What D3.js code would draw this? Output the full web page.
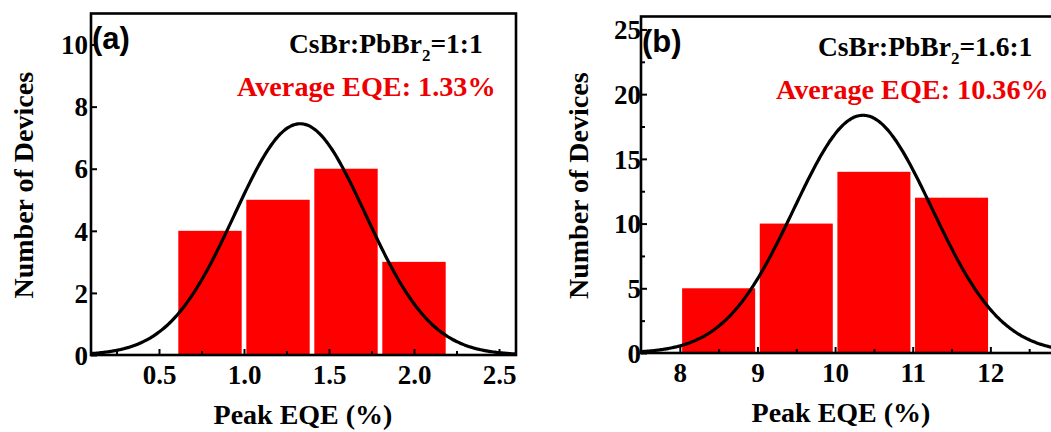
<!DOCTYPE html>
<html>
<head>
<meta charset="utf-8">
<script src="https://cdn.jsdelivr.net/npm/d3@7"></script>
<style>
  body { margin: 0; background: #fff; }
  svg { display: block; }
  text { font-family: "Liberation Serif", "Times New Roman", serif; font-weight: bold; }
  text.tag { font-family: "Liberation Sans", Arial, sans-serif; }
</style>
</head>
<body>
<div id="chart"></div>
<script>
const width = 1051,
    height = 432;

// panel (a)
const binEdgesA = [0.6, 1.0, 1.4, 1.8, 2.2];
const countsA = [4, 5, 6, 3];
const fitA = [1.33, 0.386, 7.45];   // mean, sigma, peak height
const xTicksA = [0.5, 1.0, 1.5, 2.0, 2.5];
const yTicksA = [0, 2, 4, 6, 8, 10];

// panel (b)
const binEdgesB = [8, 9, 10, 11, 12];
const countsB = [5, 10, 14, 12];
const fitB = [10.36, 0.89, 18.37];
const xTicksB = [8, 9, 10, 11, 12];
const yTicksB = [0, 5, 10, 15, 20, 25];

var svg = d3.select("#chart").append("svg")
    .attr("width", width)
    .attr("height", height);

function panel(o) {
    var g = svg.append("g");
    var x = d3.scaleLinear().domain(o.xDomain).range([o.left, o.right]);
    var y = d3.scaleLinear().domain(o.yDomain).range([o.bottom, o.top]);

    var clipId = "clip-" + o.name;
    svg.append("clipPath").attr("id", clipId)
        .append("rect")
        .attr("x", o.left).attr("y", o.top)
        .attr("width", o.right - o.left).attr("height", o.bottom - o.top);

    // bars
    var bins = o.counts.map((c, i) => ({x0: o.edges[i], x1: o.edges[i + 1], n: c}));
    g.selectAll(".bar").data(bins)
        .join("rect")
        .attr("class", "bar")
        .attr("x", d => x(d.x0) + 2.3)
        .attr("width", d => x(d.x1) - x(d.x0) - 4.6)
        .attr("y", d => y(d.n))
        .attr("height", d => y(0) - y(d.n))
        .attr("fill", "#ff0000");

    // gaussian fit
    var [mu, sigma, amp] = o.fit;
    var pts = d3.range(o.xDomain[0], o.xDomain[1] + 1e-9, (o.xDomain[1] - o.xDomain[0]) / 300)
        .map(v => [v, amp * Math.exp(-((v - mu) ** 2) / (2 * sigma * sigma))]);
    g.append("path")
        .datum(pts)
        .attr("clip-path", `url(#${clipId})`)
        .attr("fill", "none")
        .attr("stroke", "#000")
        .attr("stroke-width", 3.2)
        .attr("d", d3.line().x(d => x(d[0])).y(d => y(d[1])).curve(d3.curveBasis));

    // axes, ticks inside
    var xAxis = d3.axisBottom(x).tickValues(o.xTicks).tickSize(-6).tickFormat(o.xFmt).tickPadding(15);
    var xMinor = d3.axisBottom(x).tickValues(o.xMinor).tickSize(-4).tickFormat("");
    var yAxis = d3.axisLeft(y).tickValues(o.yTicks).tickSize(-6).tickFormat(d3.format("d")).tickPadding(o.yPad);
    var yMinor = d3.axisLeft(y).tickValues(o.yMinor).tickSize(-4).tickFormat("");

    [xMinor, xAxis].forEach(a => {
        var ax = g.append("g").attr("transform", `translate(0,${o.bottom})`).call(a);
        ax.select(".domain").remove();
        ax.selectAll(".tick line").attr("stroke-width", 2);
        ax.selectAll("text").attr("font-size", 27).attr("fill", "#000").attr("dy", "0.5em");
    });
    [yMinor, yAxis].forEach(a => {
        var ax = g.append("g").attr("transform", `translate(${o.left},0)`).call(a);
        ax.select(".domain").remove();
        ax.selectAll(".tick line").attr("stroke-width", 2);
        ax.selectAll("text").attr("font-size", 27).attr("fill", "#000").attr("dy", "0.34em");
    });

    // frame
    g.append("rect")
        .attr("x", o.left).attr("y", o.top)
        .attr("width", o.right - o.left).attr("height", o.bottom - o.top)
        .attr("fill", "none").attr("stroke", "#000").attr("stroke-width", 2.6);

    // labels
    g.append("text")
        .attr("x", o.xTitleX).attr("y", o.bottom + 69)
        .attr("text-anchor", "middle").attr("font-size", 28)
        .text("Peak EQE (%)");
    g.append("text")
        .attr("transform", `translate(${o.yTitleX},${(o.top + o.bottom) / 2 + 1}) rotate(-90)`)
        .attr("text-anchor", "middle").attr("font-size", 28)
        .text("Number of Devices");
    g.append("text")
        .attr("class", "tag")
        .attr("x", o.left + 1).attr("y", o.top + 35)
        .attr("font-size", 31)
        .text(o.tag);

    var ratio = g.append("text")
        .attr("x", o.ratioX).attr("y", o.top + 39)
        .attr("font-size", 27.5).attr("fill", "#000");
    ratio.append("tspan").text("CsBr:PbBr");
    ratio.append("tspan").attr("font-size", 17).attr("dy", 8).text("2");
    ratio.append("tspan").attr("dy", -8).text("=" + o.ratio);

    g.append("text")
        .attr("x", o.avgX).attr("y", o.top + 82)
        .attr("font-size", 28.2).attr("fill", "#ee0000")
        .text("Average EQE: " + o.avg + "%");
}

panel({
    name: "a", tag: "(a)",
    left: 91, right: 516, top: 13.5, bottom: 355,
    xDomain: [0.1, 2.6], yDomain: [0, 11],
    edges: binEdgesA, counts: countsA, fit: fitA,
    xTicks: xTicksA, xMinor: [0.25, 0.75, 1.25, 1.75, 2.25],
    yTicks: yTicksA, yMinor: [],
    xFmt: d3.format(".1f"), yPad: 3,
    xTitleX: 303, yTitleX: 33,
    ratioX: 289, ratio: "1:1",
    avgX: 237, avg: "1.33"
});

panel({
    name: "b", tag: "(b)",
    left: 641, right: 1068, top: 16.5, bottom: 353,
    xDomain: [7.5, 13], yDomain: [0, 26],
    edges: binEdgesB, counts: countsB, fit: fitB,
    xTicks: xTicksB, xMinor: [8.5, 9.5, 10.5, 11.5, 12.5],
    yTicks: yTicksB, yMinor: [2.5, 7.5, 12.5, 17.5, 22.5],
    xFmt: d3.format("d"), yPad: 0,
    xTitleX: 841, yTitleX: 588,
    ratioX: 818, ratio: "1.6:1",
    avgX: 776, avg: "10.36"
});
</script>
</body>
</html>
